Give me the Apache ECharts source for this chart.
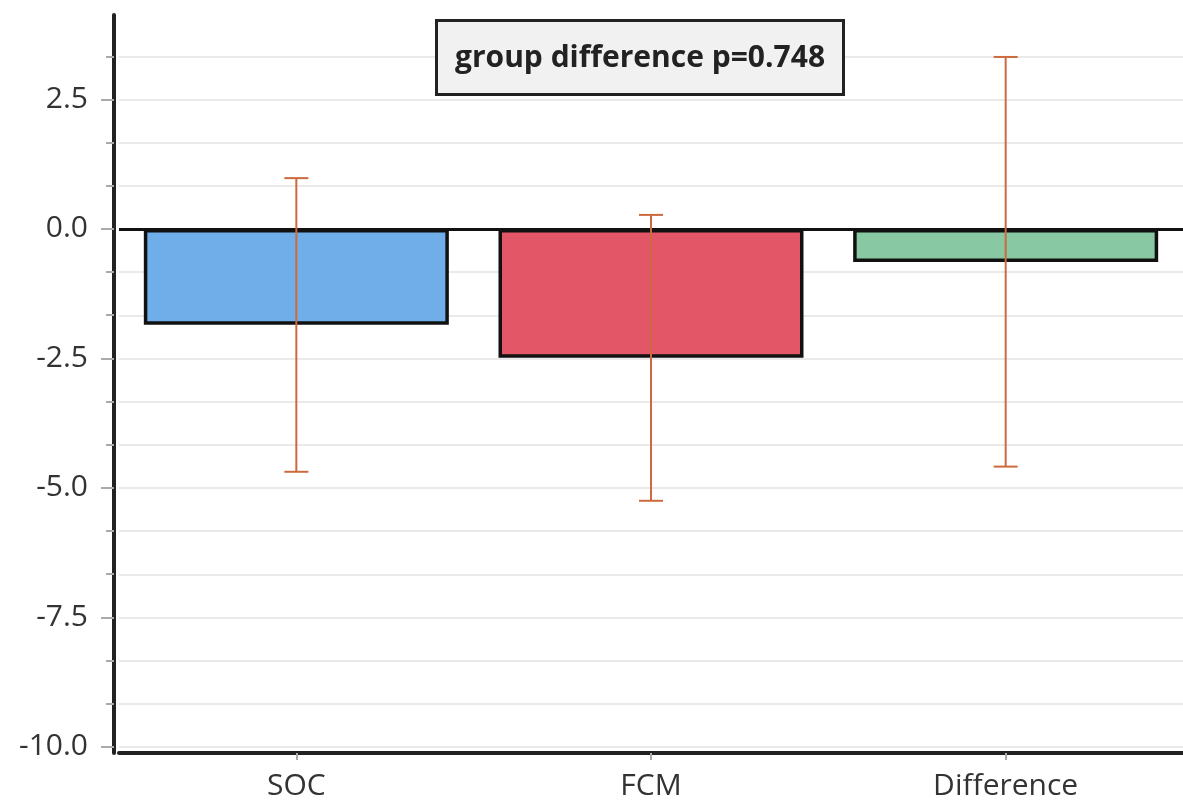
<!DOCTYPE html>
<html>
<head>
<meta charset="utf-8">
<script src="https://cdn.jsdelivr.net/npm/echarts@6/dist/echarts.min.js"></script>
<style>
html,body{margin:0;padding:0;background:#fff;}
#chart{width:1183px;height:804px;}
</style>
</head>
<body>
<div id="chart"></div>
<script>
const categories = ['SOC', 'FCM', 'Difference'];
const means = [-1.85, -2.49, -0.64];
const ciLow = [-4.69, -5.25, -4.59];
const ciHigh = [0.98, 0.27, 3.32];
const barColors = ['#70aeea', '#e25668', '#88c8a2'];
const majorTicks = [-10, -7.5, -5, -2.5, 0, 2.5];
const minorTicks = [-9.1667, -8.3333, -6.6667, -5.8333, -4.1667, -3.3333, -1.6667, -0.8333, 0.8333, 1.6667, 3.3333];
const yMin = -10.12, yMax = 4.13;
const annotation = 'group difference p=0.748';

const fontFam = '"Open Sans", "DejaVu Sans", sans-serif';
const chart = echarts.init(document.getElementById('chart'));

const gridLineData = majorTicks.concat(minorTicks).filter(v => v !== 0).map(v => ({ yAxis: v }));

chart.setOption({
  animation: false,
  backgroundColor: '#ffffff',
  title: {
    text: annotation,
    left: 436, top: 20,
    backgroundColor: '#f1f1f1',
    borderColor: '#222',
    borderWidth: 3,
    padding: [20, 19, 19, 19],
    textStyle: { fontFamily: fontFam, fontWeight: 'bold', fontSize: 30, color: '#222', lineHeight: 36 }
  },
  grid: { left: 119, right: -4, top: 15, bottom: 51, containLabel: false },
  xAxis: {
    type: 'category',
    data: categories,
    axisLine: { show: true, onZero: false, lineStyle: { color: '#222', width: 4 } },
    axisTick: { show: true, alignWithLabel: true, length: 7, lineStyle: { color: '#aaa', width: 2 } },
    axisLabel: { margin: 18, fontFamily: fontFam, fontSize: 30, color: '#333' },
    splitLine: { show: false }
  },
  yAxis: [{
    type: 'value',
    min: yMin, max: yMax,
    offset: 5,
    axisLine: { show: true, lineStyle: { color: '#222', width: 4 } },
    axisTick: { show: true, customValues: majorTicks, length: 13, lineStyle: { color: '#aaa', width: 2 } },
    axisLabel: { customValues: majorTicks, margin: 26, fontFamily: fontFam, fontSize: 30, color: '#333',
      formatter: v => v.toFixed(1) },
    splitLine: { show: false }
  }, {
    type: 'value',
    min: yMin, max: yMax,
    position: 'left',
    offset: 5,
    axisLine: { show: false },
    axisTick: { show: true, customValues: minorTicks, length: 8, lineStyle: { color: '#aaa', width: 2 } },
    axisLabel: { show: false },
    splitLine: { show: false }
  }],
  series: [
    {
      type: 'line',
      data: categories.map(() => '-'),
      z: 1,
      silent: true,
      markLine: {
        z: 1,
        silent: true, symbol: 'none', label: { show: false },
        lineStyle: { color: '#eaeaea', width: 2, type: 'solid' },
        data: gridLineData
      }
    },
    {
      type: 'bar',
      z: 2,
      barWidth: '86%',
      data: means.map((v, i) => ({ value: v, itemStyle: { color: barColors[i] } })),
      itemStyle: { borderColor: '#111', borderWidth: 3.5 },
      markLine: {
        z: 4,
        silent: true, symbol: 'none', label: { show: false },
        lineStyle: { color: '#111', width: 3, type: 'solid' },
        data: [{ yAxis: 0 }]
      }
    },
    {
      type: 'custom',
      z: 5,
      data: categories.map((c, i) => [i, ciLow[i], ciHigh[i]]),
      renderItem: function (params, api) {
        const x = api.value(0);
        const lo = api.coord([x, api.value(1)]);
        const hi = api.coord([x, api.value(2)]);
        const hw = 12;
        const style = { stroke: '#cc6a3e', lineWidth: 2 };
        return {
          type: 'group',
          children: [
            { type: 'line', shape: { x1: hi[0], y1: hi[1], x2: lo[0], y2: lo[1] }, style },
            { type: 'line', shape: { x1: hi[0] - hw, y1: hi[1], x2: hi[0] + hw, y2: hi[1] }, style },
            { type: 'line', shape: { x1: lo[0] - hw, y1: lo[1], x2: lo[0] + hw, y2: lo[1] }, style }
          ]
        };
      }
    }
  ]
});
</script>
</body>
</html>
